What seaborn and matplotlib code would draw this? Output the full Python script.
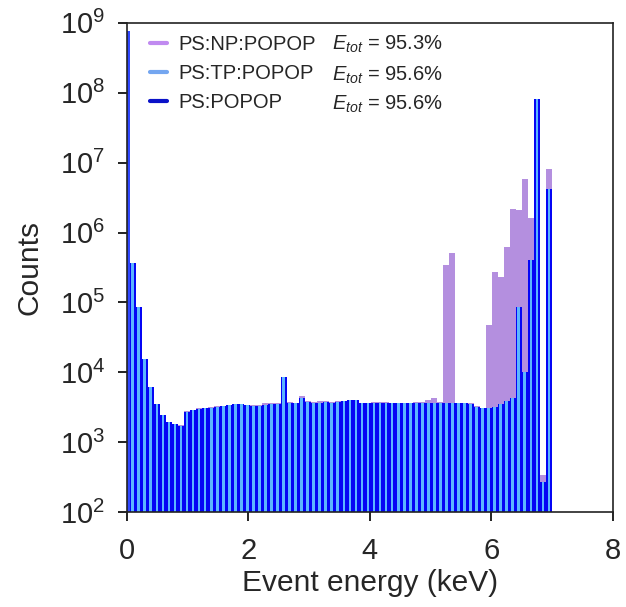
import numpy as np
import pandas as pd
import matplotlib
matplotlib.use("Agg")
import matplotlib.pyplot as plt
import matplotlib.transforms as mtransforms
from matplotlib.lines import Line2D
import seaborn as sns

# 70 energy bins (keV), counts
bin_edges = np.linspace(0.05, 7.0, 71)
bin_centers = 0.5 * (bin_edges[:-1] + bin_edges[1:])

# zero-energy events (first narrow bin)
zero_edges = [0.0, 0.05]
zero_counts = [7.6e8]

popop_counts = [
    3.7e5, 8.7e4, 1.55e4, 6.1e3, 3.5e3, 2.5e3, 1.93e3, 1.81e3, 1.73e3, 2.75e3,
    2.9e3, 3.0e3, 3.1e3, 3.1e3, 3.25e3, 3.3e3, 3.4e3, 3.5e3, 3.5e3, 3.4e3,
    3.35e3, 3.35e3, 3.45e3, 3.5e3, 3.5e3, 8.7e3, 3.6e3, 3.6e3, 4.3e3, 3.8e3,
    3.7e3, 3.7e3, 3.8e3, 3.7e3, 3.8e3, 3.85e3, 4.0e3, 4.0e3, 3.6e3, 3.65e3,
    3.7e3, 3.7e3, 3.7e3, 3.65e3, 3.65e3, 3.65e3, 3.65e3, 3.65e3, 3.65e3, 3.65e3,
    3.7e3, 3.65e3, 3.7e3, 3.7e3, 3.6e3, 3.6e3, 3.55e3, 3.25e3, 3.05e3, 3.05e3,
    3.25e3, 3.55e3, 3.9e3, 4.3e3, 8.7e4, 1.0e4, 4.0e5, 8.1e7, 2.7e2, 4.2e6,
]
tp_counts = [
    3.7e5, 8.7e4, 1.55e4, 6.1e3, 3.5e3, 2.5e3, 1.93e3, 1.81e3, 1.73e3, 2.75e3,
    2.9e3, 3.0e3, 3.1e3, 3.1e3, 3.25e3, 3.3e3, 3.4e3, 3.5e3, 3.5e3, 3.4e3,
    3.35e3, 3.35e3, 3.45e3, 3.5e3, 3.5e3, 8.7e3, 3.6e3, 3.6e3, 4.3e3, 3.8e3,
    3.7e3, 3.7e3, 3.8e3, 3.7e3, 3.8e3, 3.85e3, 4.0e3, 4.0e3, 3.6e3, 3.65e3,
    3.7e3, 3.7e3, 3.7e3, 3.65e3, 3.65e3, 3.65e3, 3.65e3, 3.65e3, 3.65e3, 3.65e3,
    3.7e3, 3.65e3, 3.7e3, 3.7e3, 3.6e3, 3.6e3, 3.55e3, 3.25e3, 3.05e3, 3.05e3,
    3.25e3, 3.55e3, 3.9e3, 4.3e3, 8.7e4, 1.0e4, 4.0e5, 8.1e7, 2.7e2, 4.2e6,
]
np_counts = [
    3.7e5, 8.7e4, 1.55e4, 6.1e3, 3.5e3, 2.5e3, 1.95e3, 1.82e3, 1.75e3, 2.85e3,
    2.95e3, 3.05e3, 3.15e3, 3.2e3, 3.3e3, 3.35e3, 3.45e3, 3.5e3, 3.5e3, 3.45e3,
    3.45e3, 3.45e3, 3.6e3, 3.65e3, 3.7e3, 8.7e3, 3.75e3, 3.6e3, 4.6e3, 3.85e3,
    3.75e3, 3.85e3, 3.85e3, 3.75e3, 3.85e3, 3.9e3, 4.0e3, 4.0e3, 3.7e3, 3.7e3,
    3.75e3, 3.8e3, 3.75e3, 3.7e3, 3.7e3, 3.7e3, 3.7e3, 3.8e3, 3.8e3, 4.1e3,
    4.3e3, 3.8e3, 3.4e5, 5.1e5, 3.65e3, 3.65e3, 3.6e3, 3.3e3, 3.15e3, 4.8e4,
    2.7e5, 2.3e5, 6.2e5, 2.2e6, 2.1e6, 5.8e6, 1.6e6, 8.1e7, 3.4e2, 8.1e6,
]

labels = ["PS:NP:POPOP", "PS:TP:POPOP", "PS:POPOP"]
efficiencies = ["95.3%", "95.6%", "95.6%"]
x_ticks = [0, 2, 4, 6, 8]
y_ticks = [1e2, 1e3, 1e4, 1e5, 1e6, 1e7, 1e8, 1e9]

c_np = "#b48fdf"
c_tp = "#5cb6ff"
c_popop = "#0505f5"

df = pd.DataFrame({"energy": bin_centers, "np": np_counts,
                   "tp": tp_counts, "popop": popop_counts})
df_zero = pd.DataFrame({"energy": [0.025], "counts": zero_counts})

sns.set_theme(style="ticks")
plt.rcParams["font.family"] = ["Liberation Sans", "DejaVu Sans"]
plt.rcParams["mathtext.fontset"] = "custom"
plt.rcParams["mathtext.rm"] = "Liberation Sans"
plt.rcParams["mathtext.it"] = "Liberation Sans:italic"
plt.rcParams["mathtext.default"] = "regular"

fig = plt.figure(figsize=(6.26, 6.07), dpi=100)
ax = fig.add_axes([0.2024, 0.156, 0.7764, 0.8066])

edges = list(bin_edges)
sns.histplot(data=df, x="energy", weights="np", bins=edges, color=c_np,
             alpha=1, linewidth=0, ax=ax)
sns.histplot(data=df, x="energy", weights="popop", bins=edges, color=c_popop,
             alpha=1, linewidth=0, ax=ax)
sns.histplot(data=df, x="energy", weights="tp", bins=edges, color=c_tp,
             alpha=1, linewidth=0, shrink=0.45, ax=ax)
sns.histplot(data=df_zero, x="energy", weights="counts", bins=zero_edges,
             color="#3048ff", alpha=1, linewidth=0, ax=ax)

ax.set_yscale("log")
ax.set_ylim(1e2, 1e9)
ax.set_xlim(0, 8)
ax.set_xticks(x_ticks)
ax.set_yticks(y_ticks)
ax.yaxis.set_minor_locator(matplotlib.ticker.NullLocator())
ax.xaxis.set_minor_locator(matplotlib.ticker.NullLocator())
ax.xaxis.set_ticks_position("bottom")
ax.yaxis.set_ticks_position("left")

ax.set_xlabel("Event energy (keV)", fontsize=21.5, labelpad=3)
ax.set_ylabel("Counts", fontsize=21.5, labelpad=12)
ax.tick_params(axis="both", which="major", labelsize=21, direction="out",
               length=6.5, width=1.2)
ax.tick_params(axis="x", pad=11)
ax.tick_params(axis="y", pad=9)
for s in ax.spines.values():
    s.set_color("#222222")
    s.set_linewidth(1.2)

# outward tick marks drawn explicitly so they always show
tx = mtransforms.blended_transform_factory(ax.transData, ax.transAxes)
ty = mtransforms.blended_transform_factory(ax.transAxes, ax.transData)
for xt in x_ticks:
    ax.plot([xt, xt], [0, -0.0184], transform=tx, color="#222222", lw=1.2,
            clip_on=False, solid_capstyle="butt", zorder=5)
for yt in y_ticks:
    ax.plot([0, -0.0185], [yt, yt], transform=ty, color="#222222", lw=1.2,
            clip_on=False, solid_capstyle="butt", zorder=5)

handles = [Line2D([0], [0], color=c, lw=3) for c in ["#c08af0", "#74a6f0", "#0a12c8"]]
leg = ax.legend(handles, labels, loc="upper left", bbox_to_anchor=(0.018, 1.003),
                frameon=False, fontsize=14.5, handlelength=0.85, handletextpad=0.6,
                labelspacing=0.5, borderaxespad=0.3)

row_y = [0.9565, 0.8933, 0.8341]
for y, e in zip(row_y, efficiencies):
    ax.text(0.422, y, "$\\mathit{E}_{\\mathit{tot}}$ = " + e, transform=ax.transAxes,
            fontsize=14.5, va="center", ha="left")

fig.savefig("out.png", dpi=100)
